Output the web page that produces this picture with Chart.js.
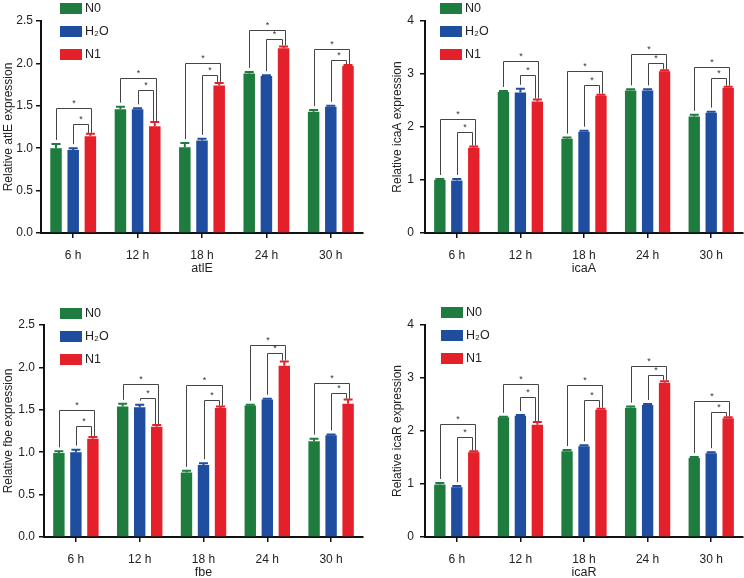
<!DOCTYPE html>
<html>
<head>
<meta charset="utf-8">
<script src="https://cdn.jsdelivr.net/npm/chart.js@4.4.1/dist/chart.umd.min.js"></script>
<style>
  body { margin: 0; background: #fff; }
  #wrap { position: relative; width: 744px; height: 578px; overflow: hidden; }
  canvas { position: absolute; }
</style>
</head>
<body>
<div id="wrap">
  <canvas id="c1" width="372" height="276" style="left:0;top:0"></canvas>
  <canvas id="c2" width="372" height="276" style="left:372px;top:0"></canvas>
  <canvas id="c3" width="372" height="276" style="left:0;top:304px"></canvas>
  <canvas id="c4" width="372" height="276" style="left:372px;top:304px"></canvas>
</div>
<script>
// categories and groups
const hours = ['6 h', '12 h', '18 h', '24 h', '30 h'];
const groups = ['N0', 'H₂O', 'N1'];
const colors = ['#1f7c3f', '#1f4ea1', '#e4202a'];

// atlE
const atlE_N0 = [1.00, 1.46, 1.01, 1.88, 1.43];
const atlE_H2O = [0.98, 1.46, 1.09, 1.85, 1.49];
const atlE_N1 = [1.14, 1.26, 1.74, 2.18, 1.97];
const atlE_N0_sd = [0.05, 0.03, 0.05, 0.02, 0.02];
const atlE_H2O_sd = [0.02, 0.01, 0.02, 0.01, 0.01];
const atlE_N1_sd = [0.03, 0.05, 0.03, 0.02, 0.01];
const atlE_outer = [1.47, 1.83, 2.01, 2.39, 2.17];
const atlE_inner = [1.28, 1.69, 1.86, 2.29, 2.04];

// icaA
const icaA_N0 = [1.00, 2.66, 1.78, 2.69, 2.20];
const icaA_H2O = [0.99, 2.65, 1.91, 2.69, 2.27];
const icaA_N1 = [1.61, 2.48, 2.59, 3.05, 2.74];
const icaA_N0_sd = [0.02, 0.02, 0.02, 0.02, 0.03];
const icaA_H2O_sd = [0.03, 0.07, 0.02, 0.02, 0.02];
const icaA_N1_sd = [0.02, 0.04, 0.02, 0.02, 0.02];
const icaA_outer = [2.16, 3.24, 3.06, 3.37, 3.14];
const icaA_inner = [1.90, 2.99, 2.80, 3.21, 2.92];

// fbe
const fbe_N0 = [0.99, 1.54, 0.76, 1.55, 1.13];
const fbe_H2O = [1.00, 1.53, 0.85, 1.62, 1.20];
const fbe_N1 = [1.16, 1.30, 1.52, 2.02, 1.57];
const fbe_N0_sd = [0.02, 0.03, 0.02, 0.01, 0.03];
const fbe_H2O_sd = [0.03, 0.03, 0.02, 0.01, 0.01];
const fbe_N1_sd = [0.02, 0.02, 0.02, 0.05, 0.05];
const fbe_outer = [1.50, 1.80, 1.79, 2.26, 1.82];
const fbe_inner = [1.31, 1.64, 1.62, 2.17, 1.70];

// icaR
const icaR_N0 = [0.99, 2.26, 1.62, 2.44, 1.49];
const icaR_H2O = [0.94, 2.29, 1.71, 2.49, 1.58];
const icaR_N1 = [1.60, 2.12, 2.40, 2.91, 2.24];
const icaR_N0_sd = [0.03, 0.01, 0.02, 0.02, 0.02];
const icaR_H2O_sd = [0.02, 0.01, 0.02, 0.02, 0.02];
const icaR_N1_sd = [0.02, 0.05, 0.02, 0.03, 0.02];
const icaR_outer = [2.14, 2.89, 2.86, 3.22, 2.57];
const icaR_inner = [1.88, 2.64, 2.59, 3.06, 2.36];

// tick labels
const ticksHalf = [0, 0.5, 1.0, 1.5, 2.0, 2.5];
const ticksOne = [0, 1, 2, 3, 4];

const FONT = "'Liberation Sans', Arial, sans-serif";

// error bars, significance brackets and the legend
const extras = {
  id: 'extras',
  afterDatasetsDraw(chart, args, o) {
    const ctx = chart.ctx;
    const y = chart.scales.y;
    const metas = [0, 1, 2].map(i => chart.getDatasetMeta(i));

    // error bars
    metas.forEach((m, i) => {
      const sd = o.sd[i];
      const vals = chart.data.datasets[i].data;
      m.data.forEach((bar, j) => {
        const top = y.getPixelForValue(vals[j] + sd[j]);
        ctx.save();
        ctx.strokeStyle = colors[i];
        ctx.lineWidth = 2;
        ctx.beginPath();
        ctx.moveTo(bar.x, bar.y);
        ctx.lineTo(bar.x, top);
        ctx.moveTo(bar.x - 4.5, top);
        ctx.lineTo(bar.x + 4.5, top);
        ctx.stroke();
        ctx.restore();
      });
    });

    // brackets
    ctx.save();
    ctx.strokeStyle = '#444';
    ctx.lineWidth = 1;
    ctx.fillStyle = '#333';
    ctx.font = '9px ' + FONT;
    ctx.textAlign = 'center';
    ctx.textBaseline = 'middle';
    const dsv = chart.data.datasets.map(d => d.data);
    hours.forEach((h, j) => {
      const g = metas[0].data[j], b = metas[1].data[j], r = metas[2].data[j];
      const gTop = y.getPixelForValue(dsv[0][j] + o.sd[0][j]) - 4;
      const bTop = y.getPixelForValue(dsv[1][j] + o.sd[1][j]) - 4;
      const rTop = y.getPixelForValue(dsv[2][j] + o.sd[2][j]) - 1;
      const yo = Math.round(y.getPixelForValue(o.outer[j])) + 0.5;
      const yi = Math.round(y.getPixelForValue(o.inner[j])) + 0.5;
      const xg = Math.round(g.x) + 0.5, xb = Math.round(b.x) + 0.5;
      const xro = Math.round(r.x + 1) + 0.5, xri = Math.round(r.x - 2) + 0.5;
      ctx.beginPath();
      ctx.moveTo(xg, gTop); ctx.lineTo(xg, yo); ctx.lineTo(xro, yo); ctx.lineTo(xro, rTop);
      ctx.moveTo(xb, bTop); ctx.lineTo(xb, yi); ctx.lineTo(xri, yi); ctx.lineTo(xri, rTop);
      ctx.stroke();
      ctx.fillText('*', (xg + xro) / 2, yo - 5);
      ctx.fillText('*', (xb + xri) / 2, yi - 5);
    });
    ctx.restore();

    // legend
    ctx.save();
    ctx.font = '12.5px ' + FONT;
    ctx.textBaseline = 'middle';
    groups.forEach((name, i) => {
      const top = o.legendTop + i * 23;
      ctx.fillStyle = colors[i];
      ctx.fillRect(o.legendX, top, 22, 11);
      ctx.fillStyle = '#222';
      ctx.fillText(name, o.legendX + 25, top + 6);
    });
    ctx.restore();
  }
};

function panel(id, gene, n0, h2o, n1, sd, outer, inner, yTicks, p) {
  return new Chart(document.getElementById(id), {
    type: 'bar',
    data: {
      labels: hours,
      datasets: [n0, h2o, n1].map((d, i) => ({
        label: groups[i],
        data: d,
        backgroundColor: colors[i],
        borderWidth: 0,
        categoryPercentage: 0.8,
        barPercentage: 0.67
      }))
    },
    options: {
      responsive: false,
      animation: false,
      layout: { padding: { left: p.padLeft, right: p.padRight, top: 21, bottom: 0 } },
      plugins: {
        legend: { display: false },
        tooltip: { enabled: false },
        extras: { sd: sd, outer: outer, inner: inner, legendX: p.legendX, legendTop: p.legendTop }
      },
      scales: {
        x: {
          offset: true,
          grid: { offset: false, drawOnChartArea: false, drawTicks: true, tickLength: 5, color: '#111', lineWidth: 1.5 },
          border: { color: '#111', width: 2 },
          ticks: { color: '#222', font: { family: FONT, size: 12 }, padding: 10, maxRotation: 0 },
          title: { display: true, text: gene, color: '#222', font: { family: FONT, size: 12.5 }, padding: 0 },
          afterFit: s => { s.height = 43; }
        },
        y: {
          min: 0,
          max: yTicks[yTicks.length - 1],
          afterBuildTicks: s => { s.ticks = yTicks.map(v => ({ value: v })); },
          grid: { drawOnChartArea: false, drawTicks: true, tickLength: 5, color: '#111', lineWidth: 1.5 },
          border: { color: '#111', width: 2 },
          ticks: {
            color: '#222', font: { family: FONT, size: 12 }, padding: p.tickPad,
            callback: v => p.decimals ? Number(v).toFixed(1) : String(v)
          },
          title: { display: true, text: 'Relative ' + gene + ' expression', color: '#222', font: { family: FONT, size: 12 }, padding: 1 },
          afterFit: s => { s.width = p.axisW; }
        }
      }
    },
    plugins: [extras]
  });
}

panel('c1', 'atlE', atlE_N0, atlE_H2O, atlE_N1, [atlE_N0_sd, atlE_H2O_sd, atlE_N1_sd], atlE_outer, atlE_inner, ticksHalf,
  { padLeft: 0, axisW: 41, padRight: 9, tickPad: 3, decimals: true, legendX: 60, legendTop: 3 });
panel('c2', 'icaA', icaA_N0, icaA_H2O, icaA_N1, [icaA_N0_sd, icaA_H2O_sd, icaA_N1_sd], icaA_outer, icaA_inner, ticksOne,
  { padLeft: 17, axisW: 36, padRight: 1, tickPad: 6, decimals: false, legendX: 68, legendTop: 3 });
panel('c3', 'fbe', fbe_N0, fbe_H2O, fbe_N1, [fbe_N0_sd, fbe_H2O_sd, fbe_N1_sd], fbe_outer, fbe_inner, ticksHalf,
  { padLeft: 0, axisW: 44, padRight: 9, tickPad: 4, decimals: true, legendX: 60, legendTop: 4 });
panel('c4', 'icaR', icaR_N0, icaR_H2O, icaR_N1, [icaR_N0_sd, icaR_H2O_sd, icaR_N1_sd], icaR_outer, icaR_inner, ticksOne,
  { padLeft: 17, axisW: 36, padRight: 1, tickPad: 6, decimals: false, legendX: 69, legendTop: 3 });
</script>
</body>
</html>
